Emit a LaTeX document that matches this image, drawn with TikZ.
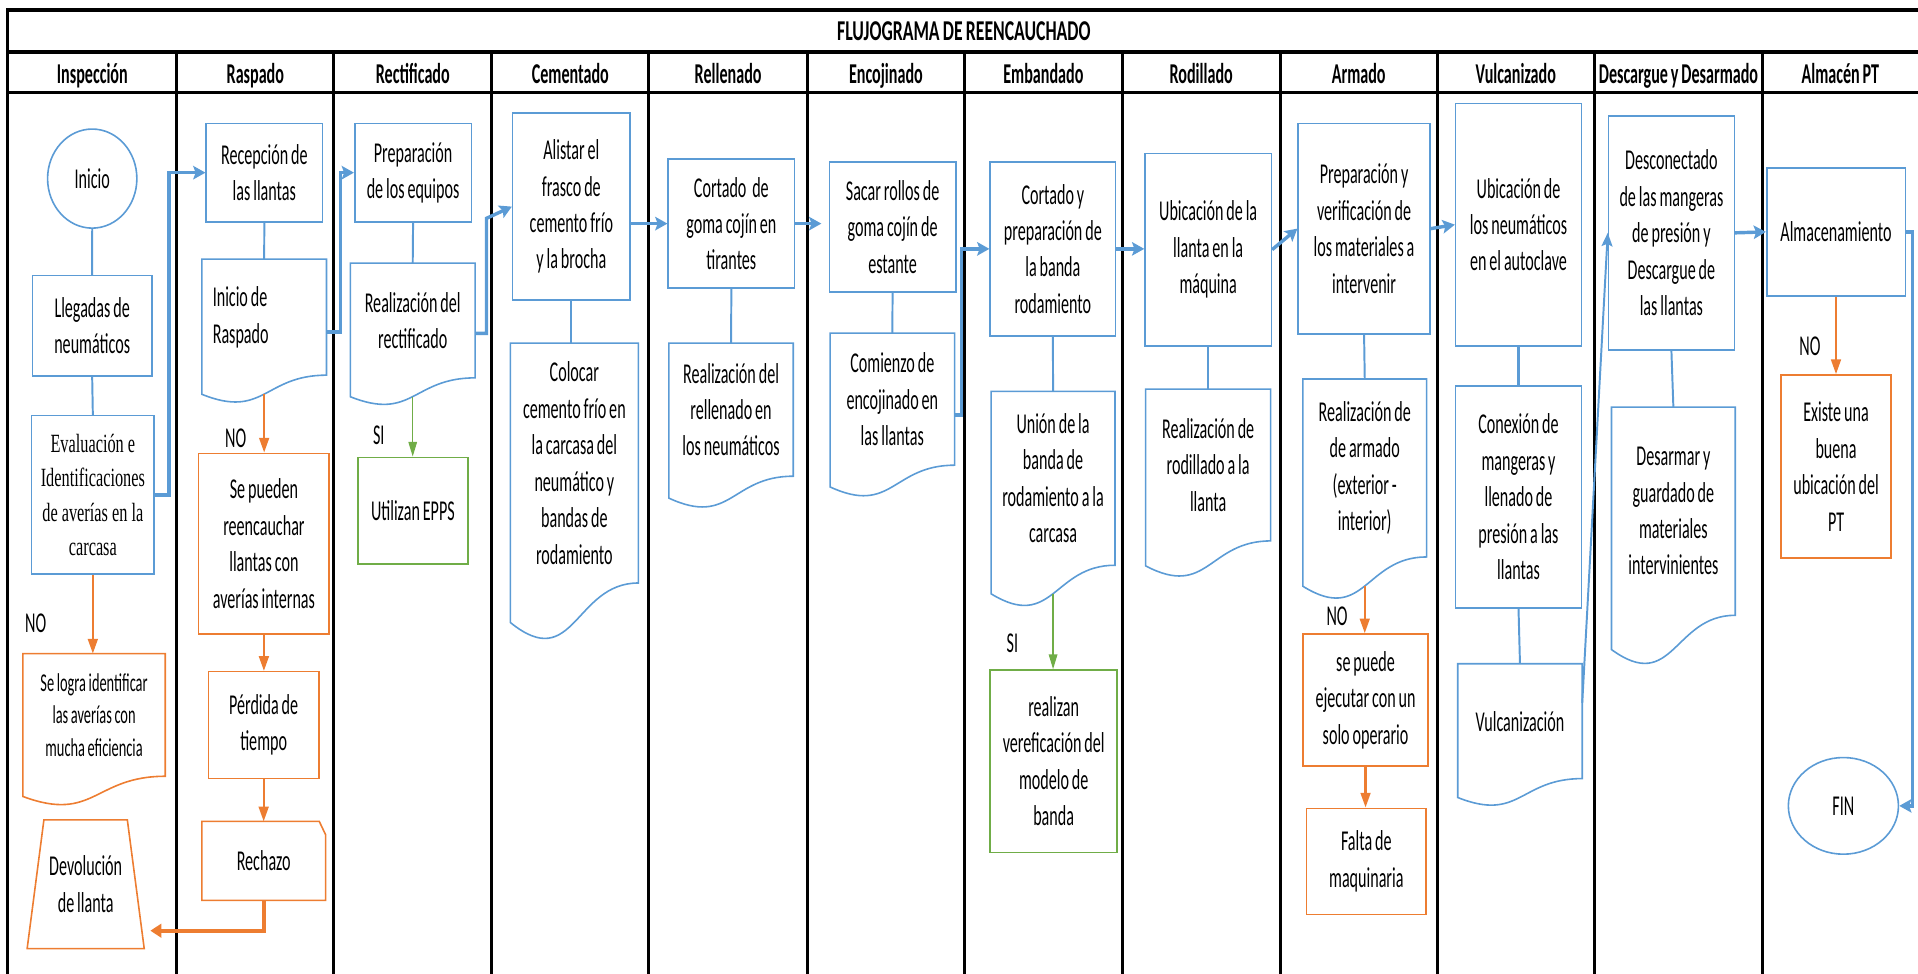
\documentclass[tikz,border=0pt]{standalone}
\usepackage{fontspec}
\setmainfont{Carlito}[FakeStretch=0.56,WordSpace=0.8]
\newfontfamily\serifx{Liberation Serif}[FakeStretch=0.62]
\usetikzlibrary{shapes.geometric,arrows.meta,calc}
\definecolor{wblue}{HTML}{5B9BD5}
\definecolor{worange}{HTML}{ED7D31}
\definecolor{wgreen}{HTML}{70AD47}
\tikzset{
  txt/.style={font=\fontsize{23.5}{29.8}\selectfont, align=center, inner sep=0pt},
  head/.style={font=\fontsize{23.5}{29.8}\selectfont\bfseries, inner sep=0pt, anchor=base},
  bbox/.style={txt, draw=wblue, line width=1.3pt},
  obox/.style={txt, draw=worange, line width=1.3pt},
  gbox/.style={txt, draw=wgreen, line width=1.3pt},
  plain/.style={txt, draw=none},
  oval/.style={txt, ellipse, draw=wblue, line width=1.3pt},
  flow/.style={draw=wblue, line width=2.8pt, -{Stealth[length=10pt,width=11pt,inset=2pt]}},
  thinflow/.style={draw=wblue, line width=1.6pt, -{Stealth[length=11pt,width=9pt,inset=2pt]}},
  link/.style={draw=wblue, line width=1.6pt},
  oarrow/.style={draw=worange, line width=1.8pt, -{Triangle[length=12pt,width=8pt]}},
  othick/.style={draw=worange, line width=3pt, -{Triangle[length=9pt,width=11pt]}},
  garrow/.style={draw=wgreen, line width=1pt, -{Triangle[length=12pt,width=7pt]}},
  lane/.style={line width=2.5pt},
  frameline/.style={line width=3pt},
}
\newcommand\placebox[7]{\node[#1, minimum width={(#5-#3)*1pt}, minimum height={(#6-#4)*1pt}] (#2) at ({(#3+#5)/2},{(#4+#6)/2}) {#7};}
\newcommand\docoutline[2]{%
  \draw[draw=#2, line width=1.3pt] (#1.north west) -- (#1.north east) -- (#1.south east)
    .. controls (#1.south) and ($(#1.north)!1.381!(#1.south)$) .. ($(#1.north west)!1.1646!(#1.south west)$) -- cycle;
  \coordinate (#1-b) at ($(#1.north)!1.1635!(#1.south)$);}
\begin{document}
\begin{tikzpicture}[x=1pt,y=-1pt]
\useasboundingbox (0,0) rectangle (1568,796);
% frame
\draw[frameline] (6.5,8.2) -- (1568,8.2);
\draw[frameline] (6.5,42.7) -- (1568,42.7);
\draw[frameline] (6.5,75.5) -- (1568,75.5);
\draw[lane] (6.5,6.7) -- (6.5,796);
\foreach \x in {144.5,273,402,530.5,660,788.5,917.5,1046.5,1175,1303.4,1441}
  \draw[lane] (\x,42.7) -- (\x,796);
% titles
\node[head] (title) at (788,32.7) {\scalebox{1.1}[1]{FLUJOGRAMA DE REENCAUCHADO}};
\node[head] (h1) at (75.5,68) {Inspección};
\node[head] (h2) at (208.75,68) {Raspado};
\node[head] (h3) at (337.5,68) {Rectificado};
\node[head] (h4) at (466.25,68) {Cementado};
\node[head] (h5) at (595.25,68) {Rellenado};
\node[head] (h6) at (724.25,68) {Encojinado};
\node[head] (h7) at (853,68) {Embandado};
\node[head] (h8) at (982,68) {Rodillado};
\node[head] (h9) at (1110.75,68) {Armado};
\node[head] (h10) at (1239.2,68) {Vulcanizado};
\node[head] (h11) at (1372.2,68) {Descargue y Desarmado};
\node[head] (h12) at (1504.5,68) {Almacén PT};
% Inspeccion
\node[oval, minimum width=73pt, minimum height=81pt] (inicio) at (75.4,146) {Inicio};
\placebox{bbox}{llegadas}{26.5}{225.3}{124.2}{307.4}{Llegadas de\\neumáticos}
\placebox{bbox, font=\serifx\fontsize{21.5}{28}\selectfont}{evaluacion}{25.8}{339.8}{126}{469.3}{Evaluación e\\Identificaciones\\de averías en la\\carcasa}
\placebox{plain, font=\fontsize{21}{26.5}\selectfont}{selogra}{18.9}{534.5}{134.9}{634.4}{Se logra identificar\\las averías con\\mucha eficiencia}
\docoutline{selogra}{worange}
\node[txt] (no1) at (29.2,509.6) {NO};
\placebox{plain}{devolucion}{22.4}{670.4}{117.7}{775.3}{Devolución\\de llanta}
\draw[worange, line width=1.3pt] (devolucion.south west) -- ([xshift=13.7pt]devolucion.north west) -- ([xshift=-13.8pt]devolucion.north east) -- (devolucion.south east) -- cycle;
% Raspado
\placebox{bbox}{recepcion}{168.6}{100.8}{263.6}{181.5}{Recepción de\\las llantas}
\placebox{plain, text width=84pt, align=flush left}{raspdoc}{165.2}{212}{266.7}{306.5}{Inicio de\\Raspado}
\docoutline{raspdoc}{wblue}
\node[txt] (no2) at (192.7,358.3) {NO};
\placebox{obox}{sepueden}{162.4}{370.6}{269.1}{518.3}{Se pueden\\reencauchar\\llantas con\\averías internas}
\placebox{obox}{perdida}{170.3}{549.1}{260.8}{636.3}{Pérdida de\\tiempo}
\placebox{plain}{rechazo}{165.2}{671.7}{266}{735.8}{Rechazo}
\draw[worange, line width=1.3pt] (rechazo.north west) -- ([xshift=-5.2pt]rechazo.north east) -- ([yshift=-10.9pt]rechazo.north east) -- (rechazo.south east) -- (rechazo.south west) -- cycle;
% Rectificado
\placebox{bbox}{prep}{290}{100.8}{385.4}{181.5}{Preparación\\de los equipos}
\placebox{plain}{rectdoc}{286.6}{215.3}{388.2}{308.7}{Realización del\\rectificado}
\docoutline{rectdoc}{wblue}
\node[txt] (si1) at (309.7,355.6) {SI};
\placebox{gbox}{utilizan}{292.5}{373.9}{382.6}{461.1}{Utilizan EPPS}
% Cementado
\placebox{bbox}{alistar}{419.1}{92.6}{515.1}{245.2}{Alistar el\\frasco de\\cemento frío\\y la brocha}
\placebox{plain}{colocar}{417.4}{280.7}{521.7}{476.4}{Colocar\\cemento frío en\\la carcasa del\\neumático y\\bandas de\\rodamiento}
\docoutline{colocar}{wblue}
% Rellenado
\placebox{bbox}{cortado}{546.3}{130.2}{649.5}{235.4}{Cortado\ \ de\\goma cojín en\\tirantes}
\placebox{plain}{rellenodoc}{547}{280.7}{648.3}{389.1}{Realización del\\rellenado en\\los neumáticos}
\docoutline{rellenodoc}{wblue}
% Encojinado
\placebox{bbox}{sacar}{678.1}{132.2}{781.3}{238.7}{Sacar rollos de\\goma cojín de\\estante}
\placebox{plain}{comienzo}{678.8}{272.5}{780.2}{380.1}{Comienzo de\\encojinado en\\las llantas}
\docoutline{comienzo}{wblue}
% Embandado
\placebox{bbox}{cortprep}{809.5}{132.2}{912}{274.7}{Cortado y\\preparación de\\la banda\\rodamiento}
\placebox{plain}{union}{810.5}{320.2}{911.3}{461.9}{Unión de la\\banda de\\rodamiento a la\\carcasa}
\docoutline{union}{wblue}
\node[txt] (si2) at (827.7,525.9) {SI};
\placebox{gbox}{realizan}{809.5}{547.7}{913.3}{696.8}{realizan\\vereficación del\\modelo de\\banda}
% Rodillado
\placebox{bbox}{ubicllanta}{936.1}{125.4}{1039.3}{282.8}{Ubicación de la\\llanta en la\\máquina}
\placebox{plain}{rodidoc}{936.8}{318.3}{1038.6}{442}{Realización de\\rodillado a la\\llanta}
\docoutline{rodidoc}{wblue}
% Armado
\placebox{bbox}{prepverif}{1061.3}{100.8}{1169}{273}{Preparación y\\verificación de\\los materiales a\\intervenir}
\placebox{plain}{armadodoc}{1065.3}{310}{1166.1}{455.1}{Realización de\\de armado\\(exterior -\\interior)}
\docoutline{armadodoc}{wblue}
\node[txt] (no3) at (1093.1,504.2) {NO};
\placebox{obox}{sepuede}{1065.3}{518.3}{1167.4}{626.2}{se puede\\ejecutar con un\\solo operario}
\placebox{obox}{falta}{1068.1}{660.8}{1165.9}{747.5}{Falta de\\maquinaria}
% Vulcanizado
\placebox{bbox}{ubicneum}{1190}{84.5}{1292.8}{282.8}{Ubicación de\\los neumáticos\\en el autoclave}
\placebox{bbox}{conexion}{1190}{315.5}{1292.8}{496.8}{Conexión de\\mangeras y\\llenado de\\presión a las\\llantas}
\placebox{plain}{vulcdoc}{1191.9}{542.8}{1293.3}{636.3}{Vulcanización}
\docoutline{vulcdoc}{wblue}
% Descargue
\placebox{bbox}{desconectado}{1315}{94.6}{1417.8}{286.1}{Desconectado\\de las mangeras\\de presión y\\Descargue de\\las llantas}
\placebox{plain}{desarmar}{1317.6}{333}{1418.4}{502.8}{Desarmar y\\guardado de\\materiales\\intervinientes}
\docoutline{desarmar}{wblue}
% Almacen
\placebox{bbox}{almac}{1444.3}{137.1}{1557.6}{242}{Almacenamiento}
\node[txt] (no4) at (1479.7,283.4) {NO};
\placebox{obox}{existe}{1455.9}{306.5}{1546.1}{456.4}{Existe una\\buena\\ubicación del\\PT}
\node[oval, minimum width=90pt, minimum height=79pt] (fin) at (1507,658.8) {FIN};
% in-lane links
\draw[link] (inicio.south) -- (llegadas.north);
\draw[link] (llegadas.south) -- (evaluacion.north);
\draw[link] (recepcion.south) -- (raspdoc.north);
\draw[link] (prep.south) -- (rectdoc.north);
\draw[link] (alistar.south) -- (alistar.south |- colocar.north);
\draw[link] (cortado.south) -- (rellenodoc.north);
\draw[link] (sacar.south) -- (comienzo.north);
\draw[link] (cortprep.south) -- (union.north);
\draw[link] (ubicllanta.south) -- (rodidoc.north);
\draw[link] (prepverif.south) -- (armadodoc.north);
\draw[link, line width=2.6pt] (ubicneum.south) -- (conexion.north);
\draw[link] (conexion.south) -- (vulcdoc.north);
\draw[link] (desconectado.south) -- (desarmar.north);
% main flow
\draw[flow] (evaluacion.east) -- ++(11.6,0) |- (recepcion.west);
\draw[flow] ([yshift=-12pt]raspdoc.east) -- ++(11.3,0) |- (prep.west);
\draw[flow] ([yshift=-10.5pt]rectdoc.east) -- ++(9.3,0) -- ++(0,-94) -- (alistar.west);
\draw[flow] (alistar.east |- cortado.west) -- (cortado.west);
\draw[flow, shorten >=6pt] (cortado.east) -- (cortado.east -| sacar.west);
\draw[flow] ([yshift=-12.9pt]comienzo.east) -- ++(5.6,0) |- (cortprep.west);
\draw[flow] (cortprep.east) -- (cortprep.east -| ubicllanta.west);
\draw[flow] (ubicllanta.east) -- (prepverif.west);
\draw[flow] (prepverif.east) -- (ubicneum.west);
\draw[thinflow] ([yshift=15pt]vulcdoc.east) -- (desconectado.west);
\draw[flow] (desconectado.east) -- (almac.west);
\draw[flow] (almac.east) -- ++(5.4,0) |- (fin.east);
% orange branches
\draw[oarrow] (evaluacion.south) -- (evaluacion.south |- selogra.north);
\draw[oarrow] (raspdoc-b) -- (raspdoc-b |- sepueden.north);
\draw[oarrow] (sepueden.south) -- (sepueden.south |- perdida.north);
\draw[oarrow] (perdida.south) -- (perdida.south |- rechazo.north);
\draw[othick] (rechazo.south) |- ([xshift=5pt, yshift=-38pt]devolucion.east);
\draw[oarrow] (armadodoc-b) -- (armadodoc-b |- sepuede.north);
\draw[oarrow] (sepuede.south) -- (sepuede.south |- falta.north);
\draw[oarrow] (almac.south) -- (almac.south |- existe.north);
% green branches
\draw[garrow] (rectdoc-b) -- (rectdoc-b |- utilizan.north);
\draw[garrow] (union-b) -- (union-b |- realizan.north);
\end{tikzpicture}
\end{document}
